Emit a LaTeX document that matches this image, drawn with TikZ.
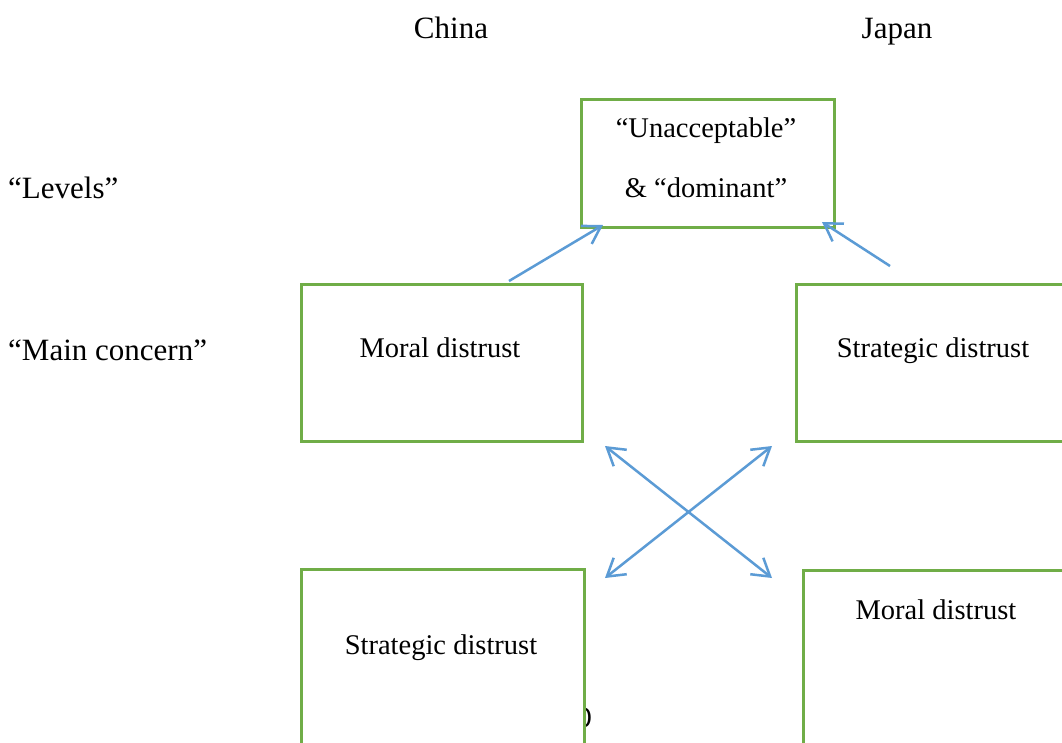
\documentclass[tikz,border=0pt]{standalone}
\usepackage{fontspec}
\setmainfont{Liberation Serif}
\newfontfamily\pagenumfont{Carlito}
\usetikzlibrary{arrows.meta}
\definecolor{boxgreen}{RGB}{112,173,71}
\definecolor{arrblue}{RGB}{91,155,213}
\begin{document}
\begin{tikzpicture}[x=1pt,y=-1pt,
  box/.style={draw=boxgreen, line width=2.6pt, fill=white, rectangle, inner sep=0pt, anchor=north west},
  lbl/.style={font=\fontsize{28.5}{34}\selectfont, inner sep=0pt, anchor=base},
  head/.style={font=\fontsize{31}{37}\selectfont, inner sep=0pt, anchor=base},
  tip/.style={Straight Barb[length=17pt,width=21pt,line width=2.5pt]},
  arr/.style={draw=arrblue, line width=2.5pt, -{Straight Barb[length=17pt,width=21pt,line width=2.5pt]}},
  darr/.style={draw=arrblue, line width=2.5pt, {Straight Barb[length=17pt,width=21pt,line width=2.5pt]}-{Straight Barb[length=17pt,width=21pt,line width=2.5pt]}}]
\useasboundingbox (0,0) rectangle (1062,742);
\clip (0,0) rectangle (1062,742);
\fill[white] (0,0) rectangle (1062,742);
% headings
\node[head] (china) at (451,38.5) {China};
\node[head] (japan) at (897,38.5) {Japan};
\node[head, anchor=base west] (levels) at (8,198.5) {“Levels”};
\node[head, anchor=base west] (mainc) at (8,360.5) {“Main concern”};
% page number fragment
\node[font=\pagenumfont\fontsize{30}{36}\selectfont, inner sep=0pt] (pnum) at (584,718) {0};
% boxes
\node[box, minimum width=253, minimum height=128] (top) at (580,98) {};
\node[lbl] (toptxt1) at (706,137.5) {“Unacceptable”};
\node[lbl] (toptxt2) at (706,197.5) {\& “dominant”};
\node[box, minimum width=281, minimum height=157] (cm) at (300,283) {};
\node[lbl] (cmtxt) at (440,357.5) {Moral distrust};
\node[box, minimum width=300, minimum height=157] (jm) at (795,283) {};
\node[lbl] (jmtxt) at (933,357.5) {Strategic distrust};
\node[box, minimum width=283, minimum height=220] (cs) at (300,568) {};
\node[lbl] (cstxt) at (441,654.5) {Strategic distrust};
\node[box, minimum width=300, minimum height=220] (jb) at (802,569) {};
\node[lbl] (jbtxt) at (936,619.5) {Moral distrust};
% arrow end points
\coordinate (a1s) at (509,281);
\coordinate (a1e) at (603,225);
\coordinate (a2s) at (890,266);
\coordinate (a2e) at (822,222);
\coordinate (x1a) at (605,446);
\coordinate (x1b) at (772,578);
\coordinate (x2a) at (772,446);
\coordinate (x2b) at (605,578);
\draw[arr] (a1s) -- (a1e);
\draw[arr] (a2s) -- (a2e);
\draw[darr] (x1a) -- (x1b);
\draw[darr] (x2a) -- (x2b);
\end{tikzpicture}
\end{document}
